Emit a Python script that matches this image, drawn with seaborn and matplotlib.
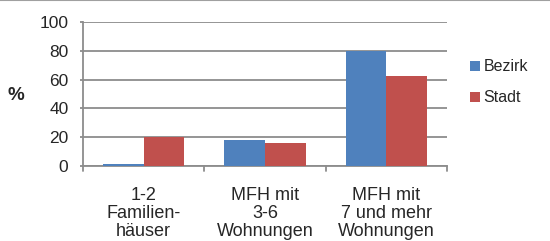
import matplotlib
matplotlib.use("Agg")
import matplotlib.pyplot as plt
import seaborn as sns
import pandas as pd
from matplotlib.lines import Line2D

categories = ["1-2\nFamilien-\nhäuser", "MFH mit\n3-6\nWohnungen", "MFH mit\n7 und mehr\nWohnungen"]
bezirk = [1.2, 18, 80]
stadt = [20, 16, 62.5]
series = ["Bezirk", "Stadt"]
yticks = [0, 20, 40, 60, 80, 100]

df = pd.DataFrame({
    "cat": categories * 2,
    "val": bezirk + stadt,
    "ser": [series[0]] * 3 + [series[1]] * 3,
})

sns.set_theme(style="white")
plt.rcParams["font.family"] = ["Liberation Sans", "DejaVu Sans"]

fig = plt.figure(figsize=(5.5, 2.41), dpi=100)
ax = fig.add_axes([83 / 550, 1 - 166 / 241, (447 - 83) / 550, (166 - 22) / 241])

sns.barplot(data=df, x="cat", y="val", hue="ser", palette=["#4f81bd", "#c0504d"],
            width=0.67, ax=ax, saturation=1, edgecolor="none")
for p in ax.patches:
    p.set_zorder(3)

ax.set_ylim(0, 100)
ax.set_xlim(-0.5, 2.5)
ax.set_yticks(yticks)
ax.set_yticklabels([str(v) for v in yticks], fontsize=12.5)
ax.yaxis.grid(True, color="#8c8c8c", linewidth=1.3)
ax.set_axisbelow(True)
ax.set_xlabel("")
ax.set_ylabel("%", rotation=0, fontsize=13.5, fontweight="bold", va="center", ha="center")
ax.yaxis.set_label_coords(-67 / 364, (166 - 96) / 144)

for s in ["top", "right"]:
    ax.spines[s].set_visible(False)
for s in ["left", "bottom"]:
    ax.spines[s].set_color("#8c8c8c")
    ax.spines[s].set_linewidth(1.3)

ax.tick_params(axis="y", left=True, length=2.5, color="#8c8c8c", width=1.3, pad=8)
ax.set_xticks([0, 1, 2])
ax.set_xticklabels(categories, fontsize=13, linespacing=1.08)
ax.tick_params(axis="x", bottom=False, pad=9)
for xb in [-0.5, 0.5, 1.5, 2.5]:
    ax.plot([xb, xb], [0, -3.5], color="#8c8c8c", lw=1.3, clip_on=False)

leg = ax.legend(loc="center left", bbox_to_anchor=(1.045, 0.58), frameon=False,
                fontsize=11.5, handlelength=0.65, handleheight=0.65, handletextpad=0.2,
                labelspacing=1.0, borderaxespad=0)

fig.add_artist(Line2D([0, 1], [0.998, 0.998], color="#a0a0a0", lw=1.5, transform=fig.transFigure))

fig.savefig("out.png", dpi=100, facecolor="white")
